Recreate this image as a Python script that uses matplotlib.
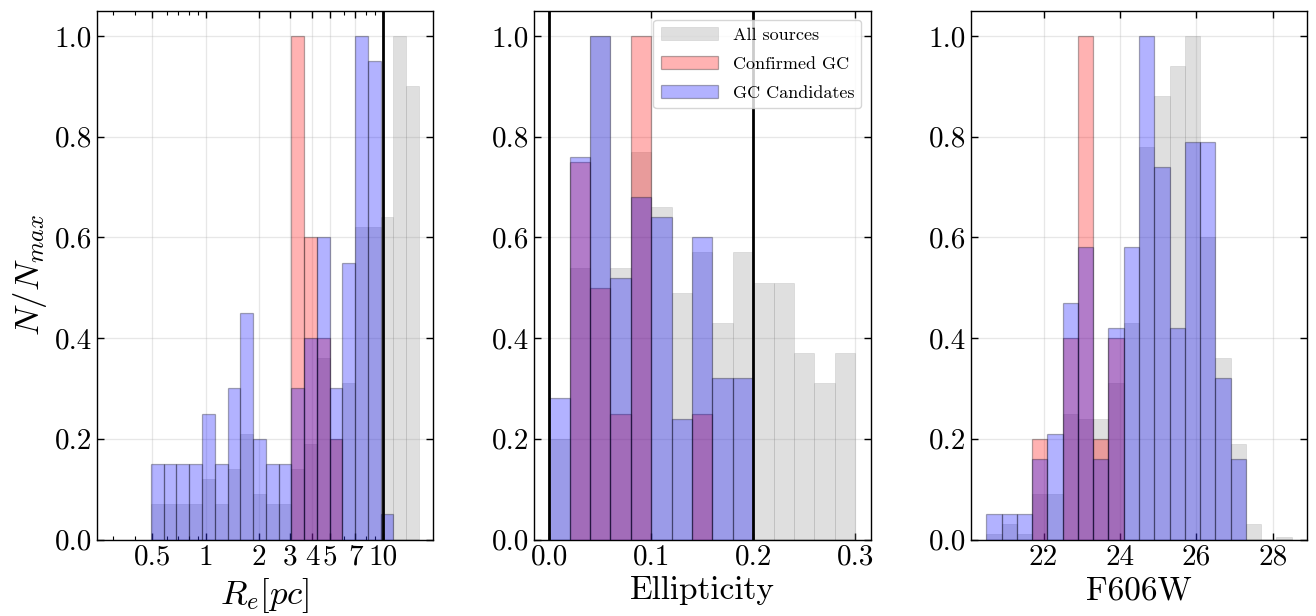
import numpy as np
import matplotlib
matplotlib.use("Agg")
import matplotlib.pyplot as plt
from matplotlib.ticker import FixedLocator, FixedFormatter, NullFormatter, LogLocator

plt.rcParams['font.family'] = ['cmr10', 'DejaVu Serif']
plt.rcParams['mathtext.fontset'] = 'cm'
plt.rcParams['axes.formatter.use_mathtext'] = True
plt.rcParams['axes.unicode_minus'] = False

# ---------------- data ----------------
# Panel 1: effective radius (log bins)
re_edges = np.logspace(np.log10(0.49), np.log10(16.0), 22)
re_all = [0.07, 0.07, 0.07, 0.07, 0.12, 0.07, 0.14, 0.21, 0.09, 0.07, 0.07,
          0.14, 0.19, 0.36, 0.20, 0.31, 0.62, 0.62, 0.64, 1.00, 0.90]
re_conf = [0, 0, 0, 0, 0, 0, 0, 0, 0, 0, 0,
           1.00, 0.60, 0.40, 0.20, 0, 0, 0, 0, 0, 0]
re_cand = [0.15, 0.15, 0.15, 0.15, 0.25, 0.15, 0.30, 0.45, 0.20, 0.15, 0.15,
           0.30, 0.40, 0.60, 0.30, 0.55, 1.00, 0.95, 0.05, 0, 0]
re_ticks = [0.5, 1, 2, 3, 4, 5, 7, 10]
re_ticklabels = ['0.5', '1', '2', '3', '4', '5', '7', '10']

# Panel 2: ellipticity
ell_edges = np.round(np.arange(0.0, 0.3001, 0.02), 3)
ell_all = [0.20, 0.54, 1.00, 0.54, 0.77, 0.66, 0.49, 0.57, 0.43, 0.57,
           0.51, 0.51, 0.37, 0.31, 0.37]
ell_conf = [0, 0.75, 0.50, 0.25, 1.00, 0, 0, 0.25, 0, 0, 0, 0, 0, 0, 0]
ell_cand = [0.28, 0.76, 1.00, 0.52, 0.68, 0.64, 0.24, 0.60, 0.32, 0.32,
            0, 0, 0, 0, 0]

# Panel 3: F606W magnitude
mag_edges = np.round(np.arange(20.5, 28.5001, 0.4), 2)
mag_all = [0.01, 0.03, 0.01, 0.09, 0.09, 0.25, 0.24, 0.24, 0.31, 0.43,
           0.78, 0.88, 0.94, 1.00, 0.60, 0.36, 0.19, 0.03, 0.0, 0.005]
mag_conf = [0, 0, 0, 0.20, 0, 0.40, 1.00, 0.20, 0.40, 0,
            0, 0, 0, 0, 0, 0, 0, 0, 0, 0]
mag_cand = [0.05, 0.05, 0.05, 0.16, 0.21, 0.47, 0.58, 0.16, 0.42, 0.58,
            1.00, 0.74, 0.42, 0.79, 0.79, 0.32, 0.16, 0, 0, 0]

labels = ['All sources', 'Confirmed GC', 'GC Candidates']

# ---------------- figure ----------------
W, H = 1316, 616
fig = plt.figure(figsize=(W / 100, H / 100), dpi=100)

def frac(l, r, b=539.5, t=10.7):
    return [l / W, 1 - b / H, (r - l) / W, (b - t) / H]

ax1 = fig.add_axes(frac(97, 433))
ax2 = fig.add_axes(frac(534, 870.5))
ax3 = fig.add_axes(frac(971, 1307))

def draw(ax, edges, a, c, g):
    edges = np.asarray(edges)
    w = np.diff(edges)
    x = edges[:-1]
    ax.bar(x, a, width=w, align='edge', color='grey', alpha=0.25,
           edgecolor='grey', linewidth=0.5, label=labels[0], zorder=2)
    ax.bar(x, c, width=w, align='edge', color='red', alpha=0.3,
           edgecolor='k', linewidth=0.9, label=labels[1], zorder=3)
    ax.bar(x, g, width=w, align='edge', color='blue', alpha=0.3,
           edgecolor='k', linewidth=0.9, label=labels[2], zorder=4)

draw(ax1, re_edges, re_all, re_conf, re_cand)
draw(ax2, ell_edges, ell_all, ell_conf, ell_cand)
draw(ax3, mag_edges, mag_all, mag_conf, mag_cand)

# vertical selection lines
ax1.axvline(10, color='k', lw=2.0, zorder=5)
ax2.axvline(0.0, color='k', lw=2.0, zorder=5)
ax2.axvline(0.2, color='k', lw=2.0, zorder=5)

# axes settings
ax1.set_xscale('log')
ax1.set_xlim(0.243, 19.2)
ax1.xaxis.set_major_locator(FixedLocator(re_ticks))
ax1.xaxis.set_major_formatter(FixedFormatter(re_ticklabels))
ax1.xaxis.set_minor_locator(LogLocator(base=10, subs=np.arange(2, 10) * 0.1, numticks=20))
ax1.xaxis.set_minor_formatter(NullFormatter())

ax2.set_xlim(-0.015, 0.315)
ax2.set_xticks([0.0, 0.1, 0.2, 0.3])
ax2.set_xticklabels(['0.0', '0.1', '0.2', '0.3'])

ax3.set_xlim(20.1, 28.9)
ax3.set_xticks([22, 24, 26, 28])
ax3.set_xticklabels(['22', '24', '26', '28'])

yt = [0.0, 0.2, 0.4, 0.6, 0.8, 1.0]
for ax in (ax1, ax2, ax3):
    ax.set_ylim(0, 1.05)
    ax.set_yticks(yt)
    ax.set_yticklabels(['%.1f' % v for v in yt])
    ax.tick_params(which='both', direction='in', top=True, right=True,
                   labelsize=21)
    ax.tick_params(which='major', length=5, width=1)
    ax.tick_params(which='minor', length=3, width=0.8)
    ax.grid(True, which='major', color='#b0b0b0', alpha=0.3, lw=0.9)
    ax.set_axisbelow(True)
    for s in ax.spines.values():
        s.set_linewidth(1.0)

ax1.set_xlabel(r'$R_e[pc]$', fontsize=25)
ax1.set_ylabel(r'$N/N_{max}$', fontsize=25)
ax2.set_xlabel('Ellipticity', fontsize=24)
ax3.set_xlabel('F606W', fontsize=24)

ax2.legend(loc='upper right', fontsize=13, framealpha=0.8, handlelength=3.2,
           labelspacing=0.75)

fig.savefig('out.png', dpi=100)
